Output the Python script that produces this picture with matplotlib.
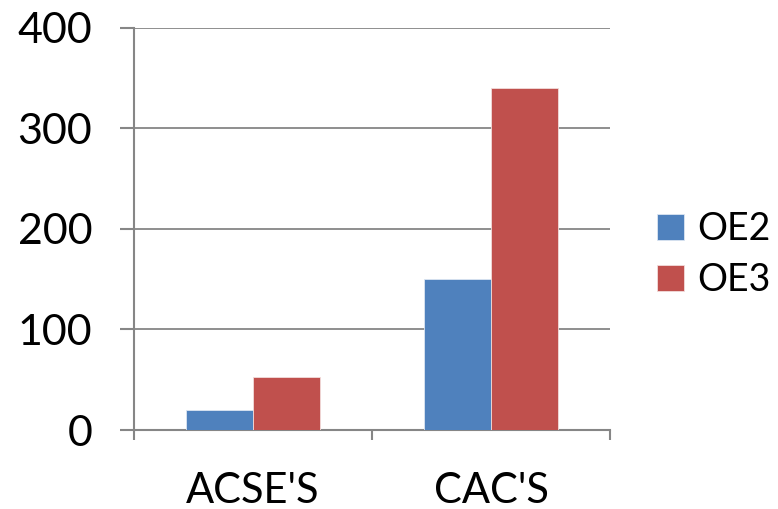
import matplotlib
matplotlib.use('Agg')
import matplotlib.pyplot as plt
import numpy as np

CATEGORIES = ["ACSE'S", "CAC'S"]
SERIES = ['OE2', 'OE3']
OE2 = [20, 150]
OE3 = [53, 340]
COLORS = ['#4F81BD', '#C0504D']
YTICKS = [0, 100, 200, 300, 400]

plt.rcParams['font.family'] = ['Lato', 'DejaVu Sans']
GRID = '#868686'

fig = plt.figure(figsize=(7.78, 5.09), dpi=100)
ax = fig.add_axes([0.1722, 0.1552, 0.612, 0.790])

x = np.arange(len(CATEGORIES))
width = 0.283
ax.bar(x - width/2, OE2, width, color=COLORS[0], label=SERIES[0],
       edgecolor='#dce6f2', linewidth=0.6, zorder=3)
ax.bar(x + width/2, OE3, width, color=COLORS[1], label=SERIES[1],
       edgecolor='#f2dcdb', linewidth=0.6, zorder=3)

ax.set_xlim(-0.5, len(CATEGORIES) - 0.5)
ax.set_ylim(0, 400)
ax.set_yticks(YTICKS)
ax.set_yticklabels([str(t) for t in YTICKS], fontsize=31)
ax.set_xticks(x)
ax.set_xticklabels(CATEGORIES, fontsize=30)
ax.set_xticks([-0.5, 0.5, 1.5], minor=True)
ax.tick_params(axis='x', which='major', length=0, pad=30)
ax.tick_params(axis='x', which='minor', length=7, width=1.5, color=GRID)
ax.tick_params(axis='y', length=10, width=1.5, color=GRID, pad=20)

ax.yaxis.grid(True, color=GRID, linewidth=1.3, zorder=0)
ax.set_axisbelow(True)
for side in ['top', 'right']:
    ax.spines[side].set_visible(False)
ax.spines['left'].set_color(GRID)
ax.spines['left'].set_linewidth(1.5)
ax.spines['bottom'].set_color(GRID)
ax.spines['bottom'].set_linewidth(1.5)

fig.legend(loc='center left', bbox_to_anchor=(0.845, 0.5), frameon=False,
           fontsize=27, handlelength=0.72, handleheight=0.72,
           handletextpad=0.35, labelspacing=0.4, borderpad=0,
           borderaxespad=0)

plt.savefig('out.png', dpi=100)
